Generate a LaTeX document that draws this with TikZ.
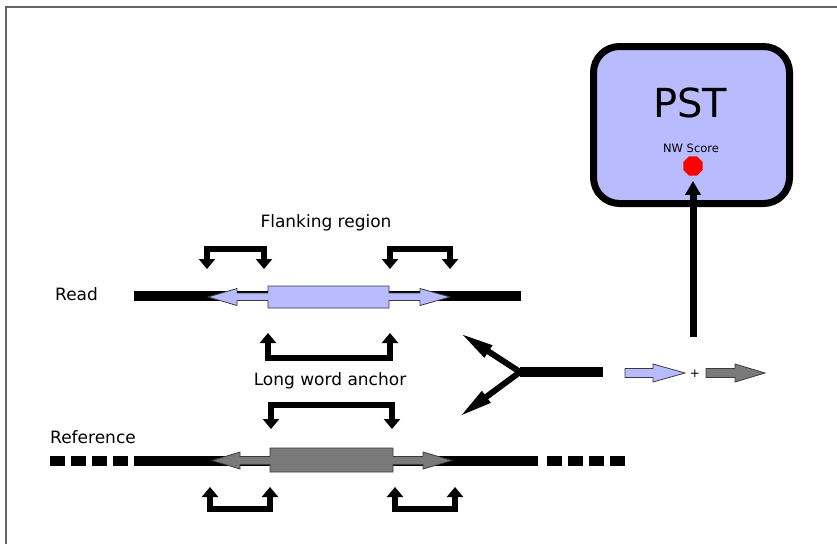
\documentclass[tikz,border=0pt]{standalone}
\usepackage{fontspec}
\setmainfont{DejaVu Sans}
\usetikzlibrary{arrows.meta,shapes.geometric}
\definecolor{lav}{RGB}{185,187,255}
\definecolor{refgray}{RGB}{122,122,122}
\definecolor{edgegray}{RGB}{60,60,60}
\definecolor{framegray}{RGB}{100,100,100}
\begin{document}
\begin{tikzpicture}[x=1pt,y=-1pt,
  thickline/.style={line width=10pt},
  bracketline/.style={line width=6pt,line join=miter,
    {Triangle[width=16pt,length=10pt]}-{Triangle[width=16pt,length=10pt]}},
  yarm/.style={line width=6pt,-{Triangle[width=13pt,length=34pt]}},
  shapeedge/.style={draw=edgegray,line width=0.8pt},
  lbl/.style={font=\fontsize{17}{20}\selectfont,inner sep=0pt}]
\useasboundingbox (0,0) rectangle (837,544);
% frame
\draw[framegray,line width=1.5pt] (6,544) -- (6,7) -- (837,7);

% PST box
\node[draw,line width=7pt,fill=lav,rounded corners=26pt,minimum width=196pt,minimum height=157pt] (pst) at (691.5,125) {};
\node[font=\fontsize{40}{44}\selectfont,inner sep=0pt] (psttext) at (690,103) {PST};
\node[font=\fontsize{11.5}{13}\selectfont,inner sep=0pt] (nw) at (691,148) {NW Score};
\node[regular polygon,regular polygon sides=8,fill=red,inner sep=0pt,minimum size=21pt] (dot) at (693,166) {};

% labels
\node[lbl] (flank) at (326,223) {Flanking region};
\node[lbl] (anchor) at (330,381) {Long word anchor};
\node[lbl,anchor=west] (read) at (55,294) {Read};
\node[lbl,anchor=west] (ref) at (50,437) {Reference};

% read line
\coordinate (rl) at (134,296);
\coordinate (rr) at (521,296);
\draw[thickline] (rl) -- (rr);
\path[fill=lav,shapeedge] (208,297) -- (237,288.5) -- (237,293) -- (268,293) -- (268,286) -- (389,286) -- (389,293) -- (420,293) -- (420,288.5) -- (450,297) -- (420,305.5) -- (420,300.5) -- (389,300.5) -- (389,308) -- (268,308) -- (268,300.5) -- (237,300.5) -- (237,305.5) -- cycle;

% flanking brackets over read
\coordinate (f1a) at (207,269); \coordinate (f1b) at (264,269);
\coordinate (f2a) at (390,269); \coordinate (f2b) at (450,269);
\draw[bracketline] (f1a) -- (207,248.5) -- (264,248.5) -- (f1b);
\draw[bracketline] (f2a) -- (390,248.5) -- (450,248.5) -- (f2b);

% anchor bracket under read
\coordinate (a1a) at (268,333); \coordinate (a1b) at (390,333);
\draw[bracketline] (a1a) -- (268,357.5) -- (390,357.5) -- (a1b);

% anchor bracket over reference
\coordinate (a2a) at (271,429); \coordinate (a2b) at (392,429);
\draw[bracketline] (a2a) -- (271,405) -- (392,405) -- (a2b);

% reference line
\coordinate (fl) at (134,461);
\coordinate (fr) at (538,461);
\draw[thickline] (fl) -- (fr);
\draw[thickline,dash pattern=on 15pt off 6pt] (50,461) -- (128,461);
\draw[thickline,dash pattern=on 15pt off 6pt] (547,461) -- (625,461);
\path[fill=refgray,shapeedge] (212,460.5) -- (240,452) -- (240,456.5) -- (270,456.5) -- (270,448) -- (393,448) -- (393,456.5) -- (423,456.5) -- (423,452) -- (452,460.5) -- (423,469) -- (423,464.5) -- (393,464.5) -- (393,472) -- (270,472) -- (270,464.5) -- (240,464.5) -- (240,469) -- cycle;

% flanking brackets under reference
\coordinate (b1a) at (210,487); \coordinate (b1b) at (270,487);
\coordinate (b2a) at (395,487); \coordinate (b2b) at (455,487);
\draw[bracketline] (b1a) -- (210,508.5) -- (270,508.5) -- (b1b);
\draw[bracketline] (b2a) -- (395,508.5) -- (455,508.5) -- (b2b);

% Y shape
\coordinate (yj) at (520,372);
\coordinate (ye) at (603,372);
\coordinate (yu) at (460,333);
\coordinate (yd) at (459,417);
\draw[thickline] (yj) -- (ye);
\draw[yarm] (yj) -- (yu);
\draw[yarm] (yj) -- (yd);

% small arrows and plus
\path[fill=lav,shapeedge] (625,368.5) -- (653,368.5) -- (653,364) -- (685,373) -- (653,382) -- (653,377.5) -- (625,377.5) -- cycle;
\node[font=\fontsize{12}{14}\selectfont,inner sep=0pt] (plus) at (695,373.5) {+};
\path[fill=refgray,shapeedge] (706,368.5) -- (735,368.5) -- (735,364) -- (765,373) -- (735,382) -- (735,377.5) -- (706,377.5) -- cycle;

% vertical arrow to PST
\coordinate (vs) at (693,337);
\draw[line width=7pt,-{Triangle[width=15pt,length=14pt]},shorten >=5pt] (vs) -- (dot.south);
\end{tikzpicture}
\end{document}
